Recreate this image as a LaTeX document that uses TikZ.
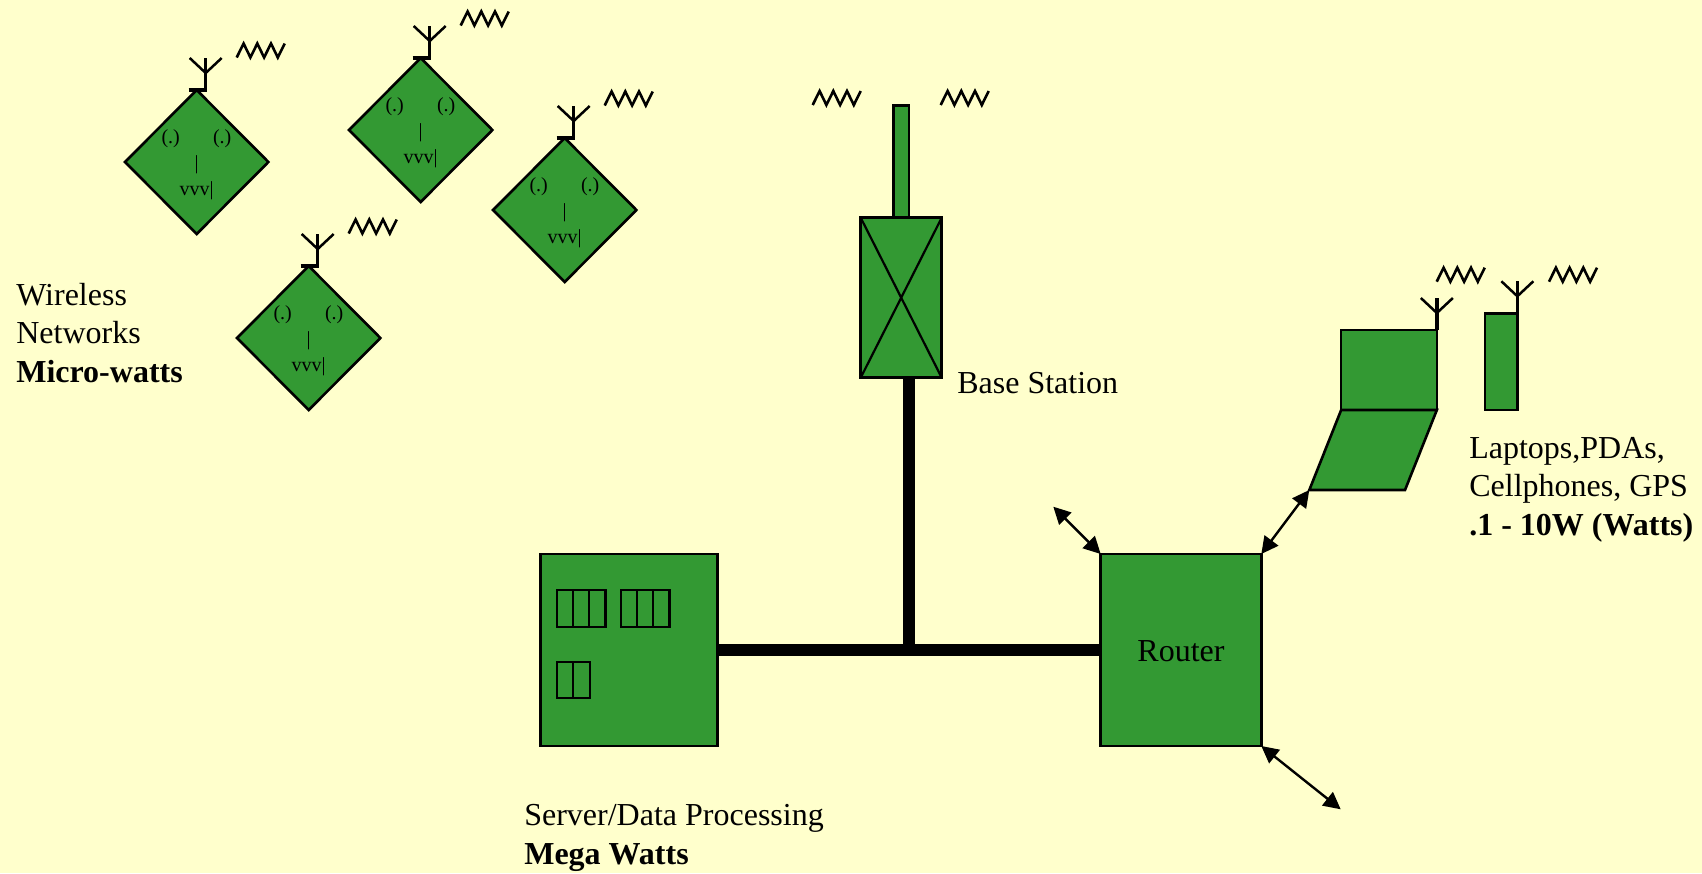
\documentclass[tikz,border=0pt]{standalone}
\usepackage{fontspec}
\setmainfont{Liberation Serif}
\usetikzlibrary{arrows.meta,shapes.geometric}
\definecolor{paper}{HTML}{FFFFCC}
\definecolor{leaf}{HTML}{339933}
\tikzset{
  x=1bp,y=-1bp,
  solid box/.style={draw=black,fill=leaf,line width=2.6bp,rectangle,inner sep=0pt,outer sep=0pt},
  outline box/.style={draw=black,line width=2.4bp},
  label text/.style={inner sep=0pt,outer sep=0pt,anchor=base west,font=\fontsize{32bp}{38.5bp}\selectfont,align=left,text=black},
  face text/.style={inner sep=0pt,outer sep=0pt,anchor=base,font=\fontsize{20bp}{24bp}\selectfont,text=black},
  bus line/.style={line width=12bp,draw=black},
  link/.style={line width=2.4bp,draw=black,{Triangle[length=17bp,width=17bp]}-{Triangle[length=17bp,width=17bp]}},
  wave/.pic={\draw[line width=2.6bp,line join=miter,miter limit=3] (0,0)--(6.9,-14)--(13.7,0)--(20.6,-14)--(27.4,0)--(34.3,-14)--(41.1,0)--(48,-14);},
  antenna/.pic={
    \draw[line width=3.4bp] (0,0)--(0,-32);
    \draw[line width=2.5bp] (-16,-32)--(0,-17)--(16,-32);
  },
  sensor/.pic={
    \node[diamond,draw=black,fill=leaf,line width=2.6bp,aspect=1,inner sep=0pt,outer sep=0pt,minimum width=143.4bp,minimum height=144bp] (body) at (0,0) {};
    \pic at (9,-72) {antenna};
    \draw[line width=3.4bp] (-8,-72)--(10.7,-72);
    \pic at (40,-104.5) {wave};
    \node[face text] (eyeL) at (-26,-19) {(.)};
    \node[face text] (eyeR) at (25.5,-19) {(.)};
    \node[face text] (nose) at (0,7) {|};
    \node[face text] (mouth) at (0,33) {vvv|};
  }
}
\begin{document}
\begin{tikzpicture}
\path[fill=paper] (0,0) rectangle (1702,873);
% sensors
\pic (d1) at (196.7,162) {sensor};
\pic (d2) at (420.7,130) {sensor};
\pic (d3) at (564.7,210) {sensor};
\pic (d4) at (308.7,338) {sensor};
% server and router
\node[solid box,minimum width=176.6bp,minimum height=192bp] (server) at (629,650) {};
\node[solid box,minimum width=160.6bp,minimum height=192bp] (router) at (1181,650) {};
\node[label text,anchor=base] (routerlabel) at (1181,661.5) {Router};
\coordinate (junction) at (909,650);
% base station
\node[solid box,minimum width=15.7bp,minimum height=112bp] (mast) at (901.2,161.7) {};
\node[solid box,minimum width=81bp,minimum height=160bp] (base) at (901.2,297.7) {};
\draw[line width=2.2bp] (base.north west)--(base.south east) (base.north east)--(base.south west);
\draw[bus line] (server.east)--(router.west);
\draw[bus line] (junction |- base.south)--(junction);
\pic at (812.7,105) {wave};
\pic at (940.7,105) {wave};
\node[label text] (baselabel) at (957.3,393.3) {Base Station};
% server racks
\draw[outline box] (556.7,590) rectangle (605.3,626.7) (572.9,590)--(572.9,626.7) (589,590)--(589,626.7);
\draw[outline box] (620.7,590) rectangle (669.3,626.7) (637,590)--(637,626.7) (653,590)--(653,626.7);
\draw[outline box] (556.7,661.7) rectangle (589.7,698) (573,661.7)--(573,698);
\node[label text] (serverlabel) at (524.3,864) {Server/Data Processing\\\bfseries Mega Watts};
% laptop and phone
\node[solid box,minimum width=95.7bp,minimum height=80bp] (screen) at (1389,370) {};
\coordinate (kbA) at (screen.south west);
\coordinate (kbB) at (screen.south east);
\coordinate (kbC) at (1405,490);
\coordinate (kbD) at (1309.3,490);
\draw[fill=leaf,line width=2.6bp,line join=miter] (kbA)--(kbB)--(kbC)--(kbD)--cycle;
\pic at (screen.north east) {antenna};
\pic at (1436.7,281.7) {wave};
\node[solid box,minimum width=32.3bp,minimum height=96.7bp] (phone) at (1501.2,361.6) {};
\pic at (phone.north east) {antenna};
\pic at (1549,281.7) {wave};
\node[label text] (devlabel) at (1469.3,535) {Laptops,PDAs,\\Cellphones, GPS\\\bfseries .1 - 10W (Watts)};
% wireless label
\node[label text] (wirelesslabel) at (16.3,382) {Wireless\\Networks\\\bfseries Micro-watts};
% links
\coordinate (freeA) at (1053.3,506.7);
\coordinate (freeB) at (1340.7,809.3);
\draw[link] (freeA)--(router.north west);
\draw[link] (kbD)--(router.north east);
\draw[link] (router.south east)--(freeB);
\pgfresetboundingbox
\useasboundingbox (0,0) rectangle (1702,873);
\end{tikzpicture}
\end{document}
